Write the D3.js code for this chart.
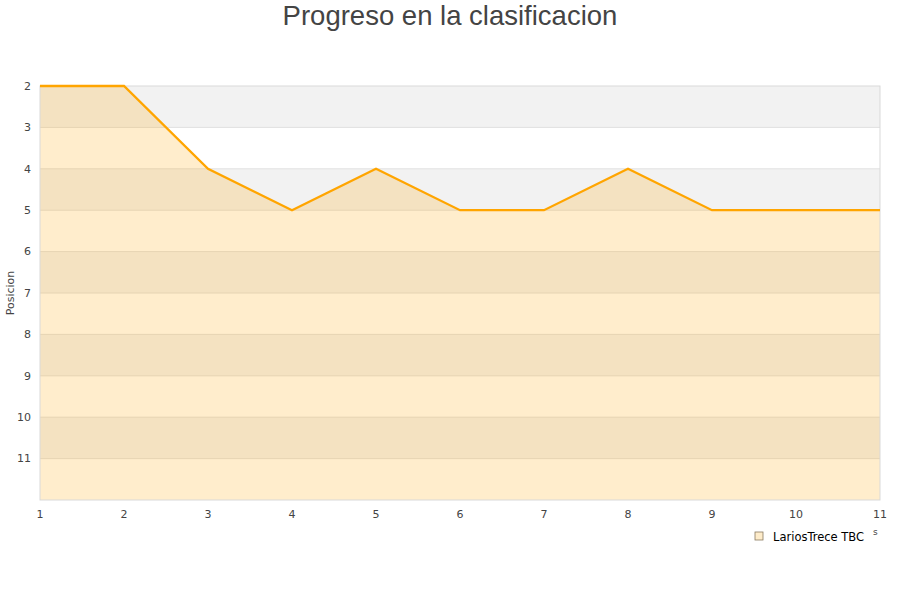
<!DOCTYPE html>
<html>
<head>
<meta charset="utf-8">
<script src="https://cdn.jsdelivr.net/npm/d3@7"></script>
<style>
  body { margin: 0; background: #fff; }
  text { font-family: "DejaVu Sans", sans-serif; }
</style>
</head>
<body>
<div id="chart"></div>
<script>
// data --------------------------------------------------------------
var jornadas = [1, 2, 3, 4, 5, 6, 7, 8, 9, 10, 11];
var posiciones = [2, 2, 4, 5, 4, 5, 5, 4, 5, 5, 5];
var yTicks = [2, 3, 4, 5, 6, 7, 8, 9, 10, 11];
var serieName = "LariosTrece TBC";
var titulo = "Progreso en la clasificacion";

var width = 900, height = 600;
var plotL = 40, plotR = 880, plotT = 86, plotB = 500;

var svg = d3.select("#chart").append("svg")
    .attr("width", width)
    .attr("height", height);

var x = d3.scaleLinear().domain([1, 11]).range([plotL, plotR]);
var y = d3.scaleLinear().domain([2, 12]).range([plotT, plotB]);

// alternating bands
svg.append("g").selectAll("rect")
    .data(d3.range(2, 12))
  .enter().append("rect")
    .attr("x", plotL)
    .attr("width", plotR - plotL)
    .attr("y", function(d) { return y(d); })
    .attr("height", function(d) { return y(d + 1) - y(d); })
    .attr("fill", function(d) { return d % 2 == 0 ? "#f2f2f2" : "#ffffff"; });

// grid lines
svg.append("g").selectAll("line")
    .data(d3.range(3, 12))
  .enter().append("line")
    .attr("x1", plotL).attr("x2", plotR)
    .attr("y1", function(d) { return y(d); })
    .attr("y2", function(d) { return y(d); })
    .attr("stroke", "#e0e0e0");

// area + line
var pts = jornadas.map(function(j, i) { return {j: j, p: posiciones[i]}; });

var area = d3.area()
    .x(function(d) { return x(d.j); })
    .y0(y(12))
    .y1(function(d) { return y(d.p); });

var line = d3.line()
    .x(function(d) { return x(d.j); })
    .y(function(d) { return y(d.p); });

svg.append("path")
    .attr("d", area(pts))
    .attr("fill", "#ffa500")
    .attr("fill-opacity", 0.2);

// frame
svg.append("rect")
    .attr("x", plotL).attr("y", plotT)
    .attr("width", plotR - plotL).attr("height", plotB - plotT)
    .attr("fill", "none")
    .attr("stroke", "#d9d9d9");

svg.append("path")
    .attr("d", line(pts))
    .attr("fill", "none")
    .attr("stroke", "#ffa500")
    .attr("stroke-width", 2.3);

// y tick labels
svg.append("g").selectAll("text")
    .data(yTicks)
  .enter().append("text")
    .attr("x", 31)
    .attr("y", function(d) { return y(d); })
    .attr("dy", "0.35em")
    .attr("text-anchor", "end")
    .attr("font-size", 11)
    .attr("fill", "#444")
    .text(function(d) { return d; });

// x tick labels
svg.append("g").selectAll("text")
    .data(jornadas)
  .enter().append("text")
    .attr("x", function(d) { return x(d); })
    .attr("y", 518)
    .attr("text-anchor", "middle")
    .attr("font-size", 11)
    .attr("fill", "#444")
    .text(function(d) { return d; });

// axis title
svg.append("text")
    .attr("transform", "translate(14," + ((plotT + plotB) / 2) + ") rotate(-90)")
    .attr("text-anchor", "middle")
    .attr("font-size", 11)
    .attr("fill", "#444")
    .text("Posicion");

// title
svg.append("text")
    .attr("x", width / 2)
    .attr("y", 25)
    .attr("text-anchor", "middle")
    .style("font-family", "'Liberation Sans', Arial, sans-serif")
    .attr("font-size", 27.5)
    .attr("fill", "#444")
    .text(titulo);

// legend
var lg = svg.append("g").attr("transform", "translate(755,532)");
lg.append("rect")
    .attr("width", 8).attr("height", 8)
    .attr("fill", "#feecca")
    .attr("stroke", "#8a7a60")
    .attr("stroke-width", 0.8);
lg.append("text")
    .attr("x", 18).attr("y", 8.5)
    .attr("font-size", 11.5)
    .attr("fill", "#000")
    .text(serieName);
svg.append("text")
    .attr("x", 873).attr("y", 535)
    .attr("font-size", 9)
    .attr("fill", "#444")
    .text("s");
</script>
</body>
</html>
